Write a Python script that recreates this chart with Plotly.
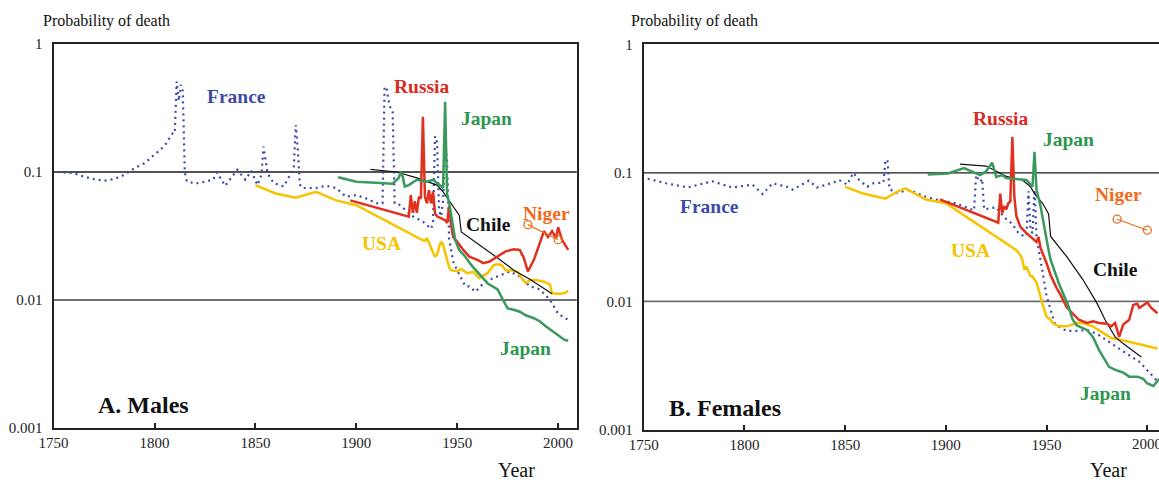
import math
import plotly.graph_objects as go

# ---------------- A. Males ----------------
france_m_years = [1752, 1760, 1765, 1770, 1775, 1780, 1785, 1790, 1795, 1800, 1805, 1808, 1809, 1810,
                  1811, 1812, 1813, 1814, 1815, 1816, 1820, 1825, 1829, 1831, 1835, 1841, 1845, 1848,
                  1851, 1853, 1854, 1856, 1859, 1864, 1869, 1870, 1871, 1872, 1873, 1880, 1885, 1890,
                  1895, 1900, 1905, 1910, 1913, 1914, 1915, 1916, 1917, 1918, 1919, 1921, 1925, 1928,
                  1933, 1937, 1938, 1939, 1940, 1941, 1942, 1943, 1944, 1945, 1946, 1947, 1948, 1950,
                  1952, 1954, 1956, 1959, 1963, 1968, 1972, 1976, 1981, 1986, 1991, 1996, 2000, 2005]
france_m_vals = [0.1, 0.098, 0.092, 0.088, 0.0855, 0.088, 0.095, 0.107, 0.117, 0.136, 0.16, 0.19, 0.2, 0.2,
                 0.51, 0.36, 0.48, 0.43, 0.1, 0.085, 0.081, 0.084, 0.087, 0.099, 0.078, 0.104, 0.087, 0.102,
                 0.079, 0.095, 0.158, 0.098, 0.082, 0.077, 0.107, 0.233, 0.15, 0.08, 0.075, 0.075, 0.078, 0.075,
                 0.064, 0.066, 0.062, 0.057, 0.057, 0.46, 0.46, 0.36, 0.31, 0.30, 0.057, 0.056, 0.049, 0.045,
                 0.041, 0.036, 0.04, 0.19, 0.17, 0.05, 0.045, 0.06, 0.18, 0.12, 0.03, 0.024, 0.02, 0.017,
                 0.0149, 0.0128, 0.0128, 0.0116, 0.0135, 0.0149, 0.0157, 0.0167, 0.0153, 0.0128, 0.0121, 0.0100,
                 0.0078, 0.0070]

usa_m_years = [1850, 1860, 1870, 1880, 1890, 1900, 1933, 1934, 1935, 1936, 1937, 1938, 1939, 1940, 1941,
               1942, 1943, 1944, 1945, 1946, 1947, 1948, 1950, 1952, 1955, 1958, 1961, 1963, 1965, 1968,
               1970, 1972, 1974, 1977, 1980, 1982, 1984, 1986, 1989, 1993, 1996, 1997, 2000, 2003, 2005]
usa_m_vals = [0.079, 0.068, 0.063, 0.070, 0.060, 0.055, 0.0293, 0.029, 0.0305, 0.0277, 0.025, 0.0235, 0.022,
              0.0225, 0.026, 0.0285, 0.027, 0.0235, 0.021, 0.018, 0.0171, 0.017, 0.0168, 0.0175, 0.0162,
              0.0166, 0.0148, 0.0155, 0.0162, 0.0187, 0.019, 0.0187, 0.0171, 0.017, 0.0166, 0.0148, 0.0135,
              0.0143, 0.0143, 0.0139, 0.0132, 0.0113, 0.0112, 0.0113, 0.0118]

russia_m_years = [1897, 1926, 1927, 1928, 1929, 1930, 1931, 1932, 1933, 1934, 1935, 1936, 1937, 1938, 1939,
                  1940, 1944, 1945, 1946, 1947, 1948, 1950, 1953, 1956, 1960, 1963, 1966, 1970, 1974, 1978,
                  1981, 1983, 1985, 1988, 1991, 1993, 1995, 1997, 1999, 2000, 2002, 2003, 2005]
russia_m_vals = [0.06, 0.0448, 0.066, 0.048, 0.059, 0.048, 0.064, 0.062, 0.27, 0.064, 0.057, 0.072, 0.057,
                 0.07, 0.0475, 0.045, 0.042, 0.04, 0.054, 0.038, 0.031, 0.0285, 0.0246, 0.0218, 0.0206,
                 0.0194, 0.02, 0.0218, 0.024, 0.0249, 0.0246, 0.0213, 0.0167, 0.0206, 0.0277, 0.0345, 0.031,
                 0.0345, 0.0305, 0.037, 0.0294, 0.0275, 0.0246]

japan_m_years = [1891, 1900, 1912, 1918, 1921, 1922, 1923, 1924, 1926, 1930, 1935, 1938, 1940, 1942, 1943,
                 1944, 1945, 1946, 1947, 1948, 1949, 1951, 1954, 1957, 1960, 1962, 1965, 1970, 1973, 1975,
                 1978, 1981, 1984, 1988, 1991, 1994, 1998, 2000, 2003, 2005]
japan_m_vals = [0.091, 0.084, 0.082, 0.081, 0.09, 0.1, 0.092, 0.077, 0.079, 0.087, 0.084, 0.087, 0.082, 0.078,
                0.075, 0.354, 0.065, 0.058, 0.046, 0.0373, 0.0294, 0.0246, 0.0218, 0.0187, 0.0167, 0.0153,
                0.0135, 0.0121, 0.0098, 0.0086, 0.0084, 0.0081, 0.0076, 0.0072, 0.0068, 0.0062, 0.0056,
                0.0053, 0.0049, 0.0048]

chile_m_years = [1907, 1920, 1930, 1940, 1943, 1948, 1951, 1952, 1961, 1970, 1978, 1986, 1997]
chile_m_vals = [0.105, 0.1, 0.09, 0.079, 0.07, 0.054, 0.046, 0.034, 0.027, 0.0213, 0.0171, 0.0145, 0.0112]

niger_m_years = [1985, 2000]
niger_m_vals = [0.0388, 0.0296]

# ---------------- B. Females ----------------
france_f_years = [1752, 1761, 1772, 1784, 1794, 1804, 1809, 1814, 1821, 1824, 1832, 1836, 1844, 1847, 1851,
                  1854, 1857, 1861, 1864, 1869, 1870, 1871, 1872, 1875, 1882, 1889, 1895, 1905, 1914, 1915,
                  1916, 1917, 1918, 1919, 1925, 1929, 1933, 1936, 1939, 1940, 1941, 1942, 1943, 1944, 1945,
                  1946, 1947, 1948, 1949, 1950, 1952, 1954, 1957, 1960, 1965, 1970, 1975, 1980, 1985, 1990,
                  1996, 2001, 2005]
france_f_vals = [0.09, 0.083, 0.077, 0.086, 0.077, 0.081, 0.0685, 0.083, 0.078, 0.074, 0.087, 0.077, 0.084,
                 0.088, 0.081, 0.1, 0.088, 0.078, 0.083, 0.084, 0.126, 0.125, 0.075, 0.07, 0.0735, 0.066,
                 0.062, 0.058, 0.051, 0.096, 0.09, 0.085, 0.09, 0.052, 0.054, 0.045, 0.040, 0.034, 0.032,
                 0.033, 0.072, 0.036, 0.034, 0.074, 0.032, 0.026, 0.0197, 0.016, 0.0139, 0.011, 0.0086,
                 0.0068, 0.0062, 0.0059, 0.0059, 0.006, 0.0056, 0.005, 0.0044, 0.0039, 0.0034, 0.0028, 0.0024]

usa_f_years = [1850, 1859, 1870, 1876, 1880, 1890, 1900, 1935, 1937, 1938, 1939, 1940, 1942, 1943, 1945,
               1946, 1947, 1948, 1949, 1950, 1952, 1953, 1956, 1960, 1965, 1968, 1973, 1978, 1982, 1985,
               1990, 1995, 2000, 2005]
usa_f_vals = [0.078, 0.069, 0.063, 0.0716, 0.0757, 0.062, 0.058, 0.025, 0.0229, 0.021, 0.0176, 0.0186,
              0.0157, 0.0157, 0.014, 0.0125, 0.0109, 0.0095, 0.0086, 0.0076, 0.0072, 0.0068, 0.0064, 0.0064,
              0.0068, 0.0068, 0.0064, 0.0057, 0.0052, 0.0051, 0.0049, 0.0047, 0.0045, 0.0043]

russia_f_years = [1897, 1926, 1927, 1928, 1929, 1930, 1931, 1932, 1933, 1934, 1935, 1937, 1940, 1943, 1945,
                  1946, 1947, 1950, 1952, 1955, 1957, 1960, 1963, 1966, 1970, 1973, 1976, 1980, 1982, 1984,
                  1986, 1988, 1991, 1993, 1995, 1996, 2000, 2002, 2005]
russia_f_vals = [0.0623, 0.041, 0.069, 0.0485, 0.055, 0.052, 0.058, 0.06, 0.191, 0.065, 0.046, 0.038, 0.034,
                 0.031, 0.029, 0.0317, 0.026, 0.0198, 0.016, 0.0127, 0.0112, 0.009, 0.0081, 0.0072, 0.0068,
                 0.007, 0.0068, 0.0067, 0.0064, 0.0068, 0.0053, 0.0066, 0.0072, 0.0094, 0.0096, 0.0089,
                 0.0098, 0.0089, 0.0081]

japan_f_years = [1891, 1896, 1901, 1909, 1914, 1917, 1920, 1923, 1925, 1928, 1930, 1934, 1937, 1940, 1943,
                 1944, 1945, 1946, 1947, 1948, 1949, 1950, 1951, 1952, 1953, 1955, 1956, 1958, 1960, 1961,
                 1962, 1963, 1965, 1967, 1970, 1973, 1976, 1979, 1981, 1985, 1988, 1991, 1995, 1998, 2000,
                 2003, 2006]
japan_f_vals = [0.097, 0.0975, 0.099, 0.109, 0.1, 0.096, 0.103, 0.12, 0.093, 0.096, 0.091, 0.09, 0.089,
                0.088, 0.078, 0.146, 0.074, 0.065, 0.055, 0.045, 0.036, 0.03, 0.025, 0.021, 0.0187, 0.0155,
                0.0139, 0.0116, 0.0098, 0.0091, 0.008, 0.0072, 0.0065, 0.0063, 0.006, 0.0053, 0.0042, 0.0035,
                0.0031, 0.0029, 0.0028, 0.0026, 0.0026, 0.0025, 0.0023, 0.0022, 0.0025]

chile_f_years = [1907, 1920, 1925, 1930, 1938, 1942, 1944, 1948, 1951, 1952, 1960, 1968, 1975, 1979, 1982,
                 1984, 1988, 1992, 1997]
chile_f_vals = [0.117, 0.113, 0.103, 0.094, 0.088, 0.078, 0.069, 0.058, 0.048, 0.032, 0.0223, 0.0148, 0.0097,
                0.0072, 0.006, 0.0053, 0.0047, 0.0042, 0.0037]

niger_f_years = [1985, 2000]
niger_f_vals = [0.0436, 0.0358]

# axis ticks
year_ticks = [1750, 1800, 1850, 1900, 1950, 2000]
prob_ticks = [0.001, 0.01, 0.1, 1]
prob_tick_text = ["0.001", "0.01", "0.1", "1"]

SERIF = "Liberation Serif, Times New Roman, serif"
C_FRANCE = "#3d4aa8"
C_USA = "#f7c300"
C_RUSSIA = "#e0301e"
C_JAPAN = "#3a9a5e"
C_CHILE = "#111111"
C_NIGER = "#f26a1b"

fig = go.Figure()


def add_panel(xa, ya, france, usa, chile, russia, japan, niger):
    fig.add_trace(go.Scatter(x=france[0], y=france[1], mode="lines", xaxis=xa, yaxis=ya,
                             line=dict(color=C_FRANCE, width=2.2, dash="2px,4px")))
    fig.add_trace(go.Scatter(x=usa[0], y=usa[1], mode="lines", xaxis=xa, yaxis=ya,
                             line=dict(color=C_USA, width=2.5)))
    fig.add_trace(go.Scatter(x=chile[0], y=chile[1], mode="lines", xaxis=xa, yaxis=ya,
                             line=dict(color=C_CHILE, width=1.2)))
    fig.add_trace(go.Scatter(x=russia[0], y=russia[1], mode="lines", xaxis=xa, yaxis=ya,
                             line=dict(color=C_RUSSIA, width=2.5)))
    fig.add_trace(go.Scatter(x=japan[0], y=japan[1], mode="lines", xaxis=xa, yaxis=ya,
                             line=dict(color=C_JAPAN, width=2.5)))
    fig.add_trace(go.Scatter(x=niger[0], y=niger[1], mode="lines+markers", xaxis=xa, yaxis=ya,
                             line=dict(color=C_NIGER, width=1.2),
                             marker=dict(symbol="circle-open", size=8, color=C_NIGER,
                                         line=dict(width=1.3, color=C_NIGER))))


add_panel("x", "y",
          (france_m_years, france_m_vals), (usa_m_years, usa_m_vals), (chile_m_years, chile_m_vals),
          (russia_m_years, russia_m_vals), (japan_m_years, japan_m_vals), (niger_m_years, niger_m_vals))
add_panel("x2", "y2",
          (france_f_years, france_f_vals), (usa_f_years, usa_f_vals), (chile_f_years, chile_f_vals),
          (russia_f_years, russia_f_vals), (japan_f_years, japan_f_vals), (niger_f_years, niger_f_vals))

xcommon = dict(ticks="inside", ticklen=5, tickwidth=1.5, tickcolor="#222",
               showline=True, linecolor="#222", linewidth=2, showgrid=False, zeroline=False,
               tickfont=dict(family=SERIF, size=15, color="#222"), fixedrange=True, automargin=False)
ycommon = dict(type="log", range=[-3, 0], tickvals=prob_ticks, ticktext=prob_tick_text, ticks="",
               showline=True, linecolor="#222", linewidth=2, showgrid=False, zeroline=False,
               tickfont=dict(family=SERIF, size=15, color="#222"), ticklabelstandoff=6, fixedrange=True,
               automargin=False)

fig.update_layout(
    width=1159, height=482, autosize=False,
    margin=dict(l=0, r=0, t=0, b=0, pad=0, autoexpand=False),
    paper_bgcolor="white", plot_bgcolor="white",
    showlegend=False,
    xaxis=dict(domain=[0.04625, 0.49758], range=[1750, 2009.2], anchor="y", mirror=True,
               tickvals=year_ticks, **xcommon),
    yaxis=dict(domain=[0.11203, 0.90871], anchor="x", mirror=True, **ycommon),
    # the last year label of the right panel runs past the page edge, so it is written separately
    xaxis2=dict(domain=[0.55539, 1.0], range=[1750, 2005.8], anchor="y2", mirror=True,
                tickvals=year_ticks, ticktext=[str(t) if t < 2000 else "" for t in year_ticks], **xcommon),
    yaxis2=dict(domain=[0.10788, 0.90809], anchor="x2", mirror=False, **ycommon),
)
fig.add_annotation(xref="x2", yref="paper", x=year_ticks[-1], y=1 - 444 / 482, text=str(year_ticks[-1]),
                   showarrow=False, xanchor="center", yanchor="middle",
                   font=dict(family=SERIF, size=15, color="#222"))

# reference lines at 0.1 and 0.01
for xr, yr in (("x", "y"), ("x2", "y2")):
    for level, col, w in ((0.1, "#1a1a1a", 1.4), (0.01, "#6e6e6e", 1.8)):
        frac = (math.log10(level) + 3) / 3
        fig.add_shape(type="line", xref=f"{xr} domain", yref=f"{yr} domain",
                      x0=0, x1=1, y0=frac, y1=frac, line=dict(color=col, width=w), layer="below")

# series labels
labels = [
    # (xaxis, yaxis, year, log10 prob, text, colour)
    ("x", "y", 1840.6, -0.412, "France", C_FRANCE),
    ("x", "y", 1932.4, -0.334, "Russia", "#d92b1f"),
    ("x", "y", 1964.3, -0.580, "Japan", "#2e9650"),
    ("x", "y", 1965.6, -1.414, "Chile", "#111111"),
    ("x", "y", 1994.1, -1.328, "Niger", C_NIGER),
    ("x", "y", 1912.6, -1.557, "USA", C_USA),
    ("x", "y", 1983.7, -2.377, "Japan", "#2e9650"),
    ("x2", "y2", 1782.9, -1.263, "France", C_FRANCE),
    ("x2", "y2", 1927.3, -0.575, "Russia", "#d92b1f"),
    ("x2", "y2", 1960.8, -0.739, "Japan", "#2e9650"),
    ("x2", "y2", 1985.6, -1.166, "Niger", C_NIGER),
    ("x2", "y2", 1984.2, -1.755, "Chile", "#111111"),
    ("x2", "y2", 1912.2, -1.600, "USA", C_USA),
    ("x2", "y2", 1979.2, -2.714, "Japan", "#2e9650"),
]
for xr, yr, xv, yv, txt, col in labels:
    fig.add_annotation(xref=xr, yref=yr, x=xv, y=yv, text=f"<b>{txt}</b>", showarrow=False,
                       xanchor="center", yanchor="middle",
                       font=dict(family=SERIF, size=19.5, color=col))

# panel titles
fig.add_annotation(xref="x", yref="y", x=1770.9, y=-2.820, text="<b>A. Males</b>", showarrow=False,
                   xanchor="left", yanchor="middle", font=dict(family=SERIF, size=24, color="#111"))
fig.add_annotation(xref="x2", yref="y2", x=1761.4, y=-2.830, text="<b>B. Females</b>", showarrow=False,
                   xanchor="left", yanchor="middle", font=dict(family=SERIF, size=24, color="#111"))

# axis titles
for xr, xv in (("x", 1979.6), ("x2", 1980.9)):
    fig.add_annotation(xref=xr, yref="paper", x=xv, y=0, text="Year", showarrow=False,
                       xanchor="center", yanchor="bottom", borderpad=0,
                       font=dict(family=SERIF, size=20, color="#111"))
for xp in (40.7 / 1159, 629.3 / 1159):
    fig.add_annotation(xref="paper", yref="paper", x=xp, y=1 - 21.5 / 482, text="Probability of death",
                       showarrow=False, xanchor="left", yanchor="middle",
                       font=dict(family=SERIF, size=16, color="#111"))

fig.write_html("out.html")
